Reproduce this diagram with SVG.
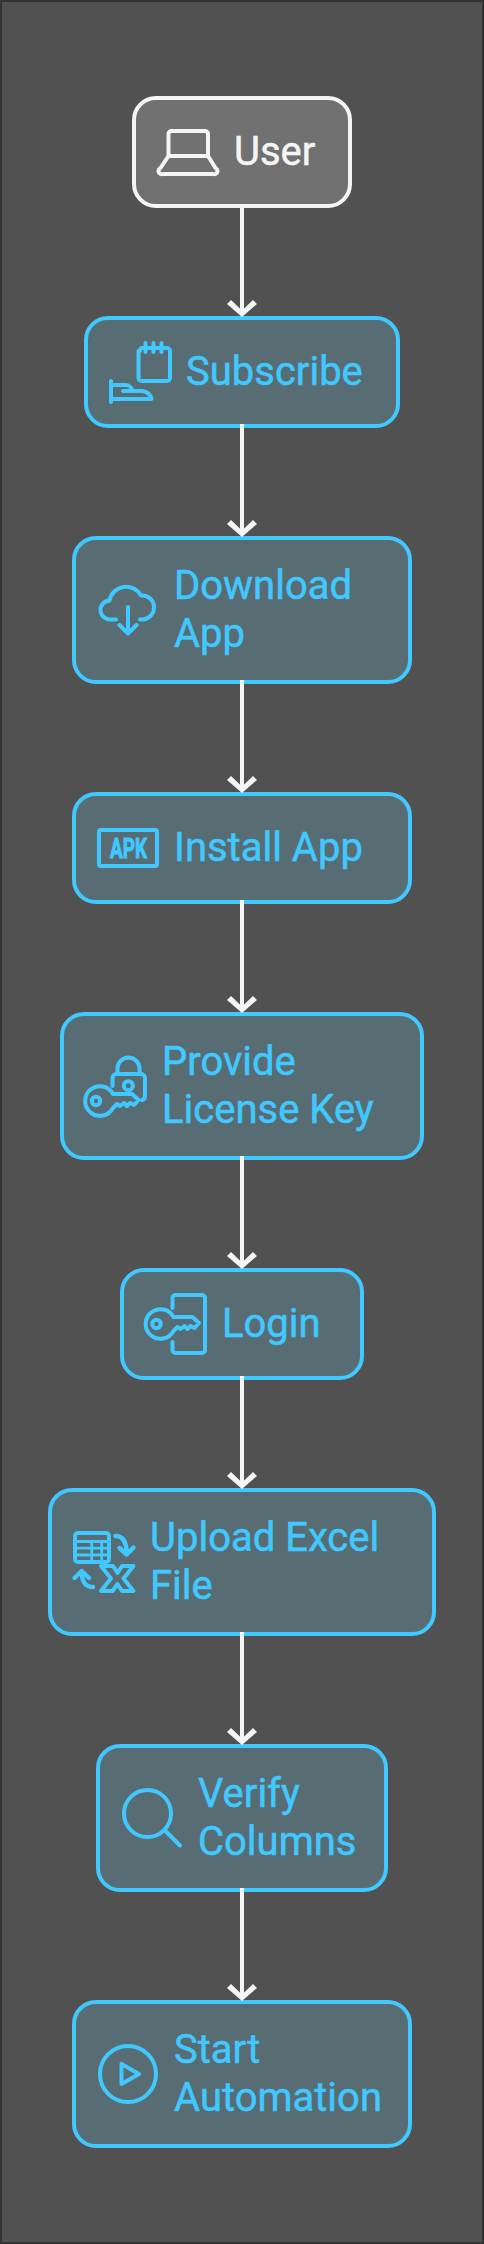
<svg xmlns="http://www.w3.org/2000/svg" xmlns:xlink="http://www.w3.org/1999/xlink" width="484" height="2244" viewBox="0 0 484 2244">
<style>
.box{fill:#586d73;stroke:#40c8ff;stroke-width:4}
.user{fill:#717171;stroke:#f5f5f5;stroke-width:4}
.t{font-family:Roboto,"Liberation Sans",sans-serif;font-size:40px;fill:#40c8ff;stroke:#40c8ff;stroke-width:.5px}
.tu{fill:#f5f5f5;stroke:#f5f5f5}
.i{fill:none;stroke:#40c8ff;stroke-width:4;stroke-linecap:round;stroke-linejoin:round}
.iu{stroke:#f5f5f5}
.c{fill:none;stroke:#f5f5f5;stroke-width:4;marker-end:url(#arrow)}
</style>
<defs>
<marker id="arrow" markerUnits="userSpaceOnUse" markerWidth="30" markerHeight="18" refX="15" refY="14" orient="0">
<polygon points="0,4 4,0 15,10.500 26,0 30,4 15,17" fill="#f5f5f5"/>
</marker>
<g id="key">
<path d="M113 1094A14.8 14.8 0 1 0 113 1108L117 1104L120 1106L124 1103L127 1106L130 1103L134 1105L138.500 1100L132 1094H113"/>
<circle cx="96" cy="1101" r="4.200"/>
</g>
</defs>
<rect x="1" y="1" width="482" height="2242" fill="#515151" stroke="#333" stroke-width="2"/>

<g id="user">
<rect class="user" x="134" y="98" width="216" height="108" rx="22"/>
<path class="i iu" d="M168.500 156V134a3 3 0 0 1 3-3H205a3 3 0 0 1 3 3V156M168.500 156H208L215.500 168a2.800 2.800 0 0 1-2.500 6H163a2.800 2.800 0 0 1-2.500-6Z"/>
<text class="t tu" x="234" y="165">User</text>
</g>

<g id="subscribe">
<rect class="box" x="86" y="318" width="312" height="108" rx="22"/>
<path class="i" d="M140 351a3 3 0 0 1 2-3H167a3 3 0 0 1 3 3V378a3 3 0 0 1-3 3H141.500a3 3 0 0 1-3-3V351M145.500 343V352M153.500 343V352M161.500 343V352"/>
<path class="i" d="M111 381V402M112 385H126Q130 385 133 391M123 391H142Q150 392 151.500 399H112"/>
<text class="t" x="186" y="385">Subscribe</text>
</g>

<g id="download">
<rect class="box" x="74" y="538" width="336" height="144" rx="22"/>
<path class="i" d="M116 619.500H110.500a9.500 9.500 0 0 1-1-19A17 17 0 0 1 141 595.500A12 12 0 0 1 143 619.500H140M128 607V633M119.500 625L128 633.500L136.500 625"/>
<text class="t" x="174" y="599">Download</text>
<text class="t" x="174" y="647">App</text>
</g>

<g id="install">
<rect class="box" x="74" y="794" width="336" height="108" rx="22"/>
<rect class="i" x="99" y="830" width="58" height="36" rx="2"/>
<text x="110" y="858" font-family="Roboto,'Liberation Sans',sans-serif" font-size="28" font-weight="700" fill="#40c8ff" stroke="#40c8ff" stroke-width="1" textLength="37" lengthAdjust="spacingAndGlyphs">APK</text>
<text class="t" x="174" y="861">Install App</text>
</g>

<g id="license">
<rect class="box" x="62" y="1014" width="360" height="144" rx="22"/>
<path class="i" d="M117.500 1074V1068.500a11 11 0 0 1 22 0V1074M112.500 1086V1078a4 4 0 0 1 4-4H141a4 4 0 0 1 4 4V1096a4 4 0 0 1-3 4"/>
<circle class="i" cx="128.300" cy="1085.700" r="4.500"/>
<use class="i" href="#key" xlink:href="#key"/>
<text class="t" x="162" y="1075">Provide</text>
<text class="t" x="162" y="1123">License Key</text>
</g>

<g id="login">
<rect class="box" x="122" y="1270" width="240" height="108" rx="22"/>
<path class="i" d="M172.500 1308V1298a3 3 0 0 1 3-3H202a3 3 0 0 1 3 3V1350a3 3 0 0 1-3 3H175.500a3 3 0 0 1-3-3V1342"/>
<use class="i" href="#key" xlink:href="#key" transform="translate(60.500 223)"/>
<text class="t" x="222" y="1337">Login</text>
</g>

<g id="upload">
<rect class="box" x="50" y="1490" width="384" height="144" rx="22"/>
<rect class="i" x="75" y="1533" width="34" height="29" rx="3"/>
<path class="i" style="stroke-width:2.800" d="M76 1541.500H108M76 1548.200H108M76 1555H108M91.700 1542V1561M101.700 1542V1561"/>
<path class="i" style="stroke-width:4.400" d="M115.500 1536Q126 1536 126.700 1552M119.500 1548L126.700 1554.500L133.500 1547.500"/>
<path class="i" style="stroke-width:4.400" d="M93 1587Q82 1587 81.700 1572M74.500 1578L81.700 1571L89 1578"/>
<path class="i" d="M101 1566H113L117.500 1573L122 1566H133.500L123.500 1578.500L133.500 1591H122L117.500 1584L112.500 1591H101L111 1578.500Z"/>
<text class="t" x="150" y="1551">Upload Excel</text>
<text class="t" x="150" y="1599">File</text>
</g>

<g id="verify">
<rect class="box" x="98" y="1746" width="288" height="144" rx="22"/>
<circle class="i" cx="147.500" cy="1813.500" r="23.500"/>
<path class="i" d="M165.500 1831L180 1845.500"/>
<text class="t" x="198" y="1807">Verify</text>
<text class="t" x="198" y="1855">Columns</text>
</g>

<g id="start">
<rect class="box" x="74" y="2002" width="336" height="144" rx="22"/>
<circle class="i" cx="128" cy="2074" r="28"/>
<path class="i" d="M121.500 2064V2084L139 2074Z"/>
<text class="t" x="174" y="2063">Start</text>
<text class="t" x="174" y="2111">Automation</text>
</g>

<g id="connectors">
<path class="c" d="M242 204V314"/>
<path class="c" d="M242 424V534"/>
<path class="c" d="M242 680V790"/>
<path class="c" d="M242 900V1010"/>
<path class="c" d="M242 1156V1266"/>
<path class="c" d="M242 1376V1486"/>
<path class="c" d="M242 1632V1742"/>
<path class="c" d="M242 1888V1998"/>
</g>
</svg>
